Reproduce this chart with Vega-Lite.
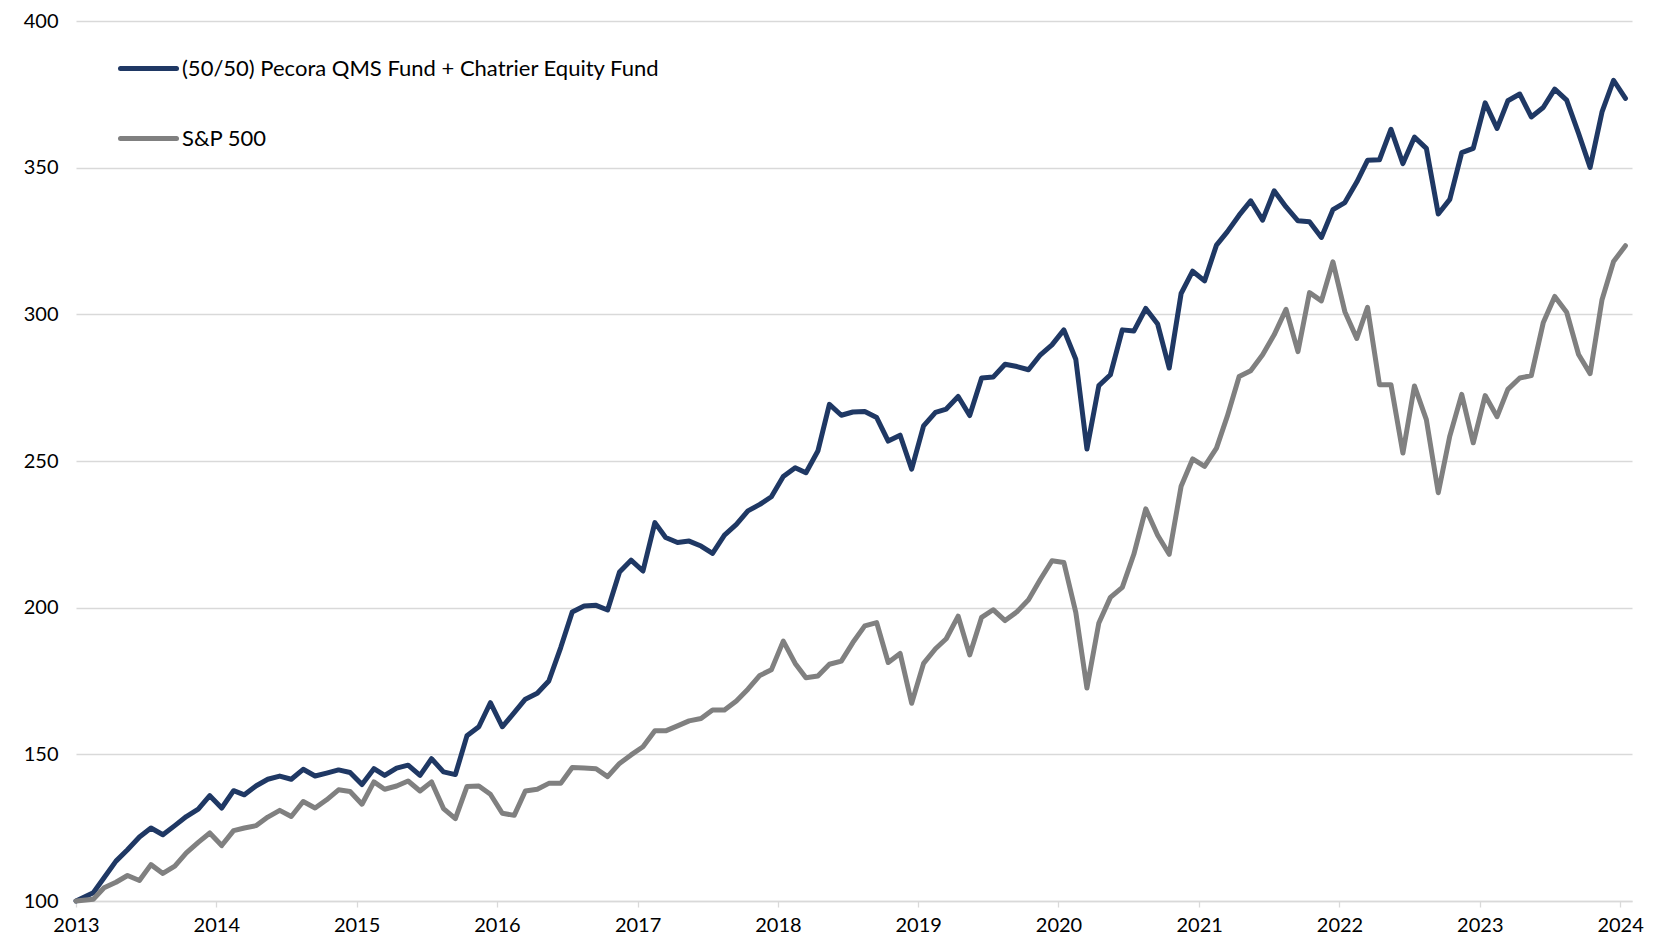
{
"$schema": "https://vega.github.io/schema/vega-lite/v6.json",
"width": 1556, "height": 880,
"autosize": {"type": "none"},
"padding": {"left": 76, "top": 21, "right": 23, "bottom": 43},
"background": "white",
"config": {"view": {"stroke": null}, "font": "Lato"},
"data": {"values": [
{"date":"2013-01-01","series":"(50/50) Pecora QMS Fund + Chatrier Equity Fund","value":100},
{"date":"2013-02-15","series":"(50/50) Pecora QMS Fund + Chatrier Equity Fund","value":102.8},
{"date":"2013-03-15","series":"(50/50) Pecora QMS Fund + Chatrier Equity Fund","value":107.9},
{"date":"2013-04-15","series":"(50/50) Pecora QMS Fund + Chatrier Equity Fund","value":113.6},
{"date":"2013-05-15","series":"(50/50) Pecora QMS Fund + Chatrier Equity Fund","value":117.5},
{"date":"2013-06-15","series":"(50/50) Pecora QMS Fund + Chatrier Equity Fund","value":121.8},
{"date":"2013-07-15","series":"(50/50) Pecora QMS Fund + Chatrier Equity Fund","value":124.9},
{"date":"2013-08-15","series":"(50/50) Pecora QMS Fund + Chatrier Equity Fund","value":122.6},
{"date":"2013-09-15","series":"(50/50) Pecora QMS Fund + Chatrier Equity Fund","value":125.7},
{"date":"2013-10-15","series":"(50/50) Pecora QMS Fund + Chatrier Equity Fund","value":128.8},
{"date":"2013-11-15","series":"(50/50) Pecora QMS Fund + Chatrier Equity Fund","value":131.3},
{"date":"2013-12-15","series":"(50/50) Pecora QMS Fund + Chatrier Equity Fund","value":135.9},
{"date":"2014-01-15","series":"(50/50) Pecora QMS Fund + Chatrier Equity Fund","value":131.7},
{"date":"2014-02-15","series":"(50/50) Pecora QMS Fund + Chatrier Equity Fund","value":137.6},
{"date":"2014-03-15","series":"(50/50) Pecora QMS Fund + Chatrier Equity Fund","value":136.2},
{"date":"2014-04-15","series":"(50/50) Pecora QMS Fund + Chatrier Equity Fund","value":139.3},
{"date":"2014-05-15","series":"(50/50) Pecora QMS Fund + Chatrier Equity Fund","value":141.5},
{"date":"2014-06-15","series":"(50/50) Pecora QMS Fund + Chatrier Equity Fund","value":142.6},
{"date":"2014-07-15","series":"(50/50) Pecora QMS Fund + Chatrier Equity Fund","value":141.5},
{"date":"2014-08-15","series":"(50/50) Pecora QMS Fund + Chatrier Equity Fund","value":144.9},
{"date":"2014-09-15","series":"(50/50) Pecora QMS Fund + Chatrier Equity Fund","value":142.6},
{"date":"2014-10-15","series":"(50/50) Pecora QMS Fund + Chatrier Equity Fund","value":143.6},
{"date":"2014-11-15","series":"(50/50) Pecora QMS Fund + Chatrier Equity Fund","value":144.7},
{"date":"2014-12-15","series":"(50/50) Pecora QMS Fund + Chatrier Equity Fund","value":143.8},
{"date":"2015-01-15","series":"(50/50) Pecora QMS Fund + Chatrier Equity Fund","value":139.7},
{"date":"2015-02-15","series":"(50/50) Pecora QMS Fund + Chatrier Equity Fund","value":145.1},
{"date":"2015-03-15","series":"(50/50) Pecora QMS Fund + Chatrier Equity Fund","value":142.8},
{"date":"2015-04-15","series":"(50/50) Pecora QMS Fund + Chatrier Equity Fund","value":145.3},
{"date":"2015-05-15","series":"(50/50) Pecora QMS Fund + Chatrier Equity Fund","value":146.3},
{"date":"2015-06-15","series":"(50/50) Pecora QMS Fund + Chatrier Equity Fund","value":142.8},
{"date":"2015-07-15","series":"(50/50) Pecora QMS Fund + Chatrier Equity Fund","value":148.5},
{"date":"2015-08-15","series":"(50/50) Pecora QMS Fund + Chatrier Equity Fund","value":144.0},
{"date":"2015-09-15","series":"(50/50) Pecora QMS Fund + Chatrier Equity Fund","value":143.1},
{"date":"2015-10-15","series":"(50/50) Pecora QMS Fund + Chatrier Equity Fund","value":156.3},
{"date":"2015-11-15","series":"(50/50) Pecora QMS Fund + Chatrier Equity Fund","value":159.4},
{"date":"2015-12-15","series":"(50/50) Pecora QMS Fund + Chatrier Equity Fund","value":167.6},
{"date":"2016-01-15","series":"(50/50) Pecora QMS Fund + Chatrier Equity Fund","value":159.4},
{"date":"2016-02-15","series":"(50/50) Pecora QMS Fund + Chatrier Equity Fund","value":164.2},
{"date":"2016-03-15","series":"(50/50) Pecora QMS Fund + Chatrier Equity Fund","value":168.8},
{"date":"2016-04-15","series":"(50/50) Pecora QMS Fund + Chatrier Equity Fund","value":170.8},
{"date":"2016-05-15","series":"(50/50) Pecora QMS Fund + Chatrier Equity Fund","value":175.0},
{"date":"2016-06-15","series":"(50/50) Pecora QMS Fund + Chatrier Equity Fund","value":186.4},
{"date":"2016-07-15","series":"(50/50) Pecora QMS Fund + Chatrier Equity Fund","value":198.5},
{"date":"2016-08-15","series":"(50/50) Pecora QMS Fund + Chatrier Equity Fund","value":200.6},
{"date":"2016-09-15","series":"(50/50) Pecora QMS Fund + Chatrier Equity Fund","value":200.8},
{"date":"2016-10-15","series":"(50/50) Pecora QMS Fund + Chatrier Equity Fund","value":199.2},
{"date":"2016-11-15","series":"(50/50) Pecora QMS Fund + Chatrier Equity Fund","value":212.2},
{"date":"2016-12-15","series":"(50/50) Pecora QMS Fund + Chatrier Equity Fund","value":216.2},
{"date":"2017-01-15","series":"(50/50) Pecora QMS Fund + Chatrier Equity Fund","value":212.5},
{"date":"2017-02-15","series":"(50/50) Pecora QMS Fund + Chatrier Equity Fund","value":229.0},
{"date":"2017-03-15","series":"(50/50) Pecora QMS Fund + Chatrier Equity Fund","value":223.9},
{"date":"2017-04-15","series":"(50/50) Pecora QMS Fund + Chatrier Equity Fund","value":222.2},
{"date":"2017-05-15","series":"(50/50) Pecora QMS Fund + Chatrier Equity Fund","value":222.7},
{"date":"2017-06-15","series":"(50/50) Pecora QMS Fund + Chatrier Equity Fund","value":221.0},
{"date":"2017-07-15","series":"(50/50) Pecora QMS Fund + Chatrier Equity Fund","value":218.5},
{"date":"2017-08-15","series":"(50/50) Pecora QMS Fund + Chatrier Equity Fund","value":224.7},
{"date":"2017-09-15","series":"(50/50) Pecora QMS Fund + Chatrier Equity Fund","value":228.4},
{"date":"2017-10-15","series":"(50/50) Pecora QMS Fund + Chatrier Equity Fund","value":233.0},
{"date":"2017-11-15","series":"(50/50) Pecora QMS Fund + Chatrier Equity Fund","value":235.2},
{"date":"2017-12-15","series":"(50/50) Pecora QMS Fund + Chatrier Equity Fund","value":237.8},
{"date":"2018-01-15","series":"(50/50) Pecora QMS Fund + Chatrier Equity Fund","value":244.7},
{"date":"2018-02-15","series":"(50/50) Pecora QMS Fund + Chatrier Equity Fund","value":247.7},
{"date":"2018-03-15","series":"(50/50) Pecora QMS Fund + Chatrier Equity Fund","value":246.0},
{"date":"2018-04-15","series":"(50/50) Pecora QMS Fund + Chatrier Equity Fund","value":253.4},
{"date":"2018-05-15","series":"(50/50) Pecora QMS Fund + Chatrier Equity Fund","value":269.3},
{"date":"2018-06-15","series":"(50/50) Pecora QMS Fund + Chatrier Equity Fund","value":265.6},
{"date":"2018-07-15","series":"(50/50) Pecora QMS Fund + Chatrier Equity Fund","value":266.7},
{"date":"2018-08-15","series":"(50/50) Pecora QMS Fund + Chatrier Equity Fund","value":266.9},
{"date":"2018-09-15","series":"(50/50) Pecora QMS Fund + Chatrier Equity Fund","value":264.8},
{"date":"2018-10-15","series":"(50/50) Pecora QMS Fund + Chatrier Equity Fund","value":256.8},
{"date":"2018-11-15","series":"(50/50) Pecora QMS Fund + Chatrier Equity Fund","value":258.8},
{"date":"2018-12-15","series":"(50/50) Pecora QMS Fund + Chatrier Equity Fund","value":247.2},
{"date":"2019-01-15","series":"(50/50) Pecora QMS Fund + Chatrier Equity Fund","value":262.0},
{"date":"2019-02-15","series":"(50/50) Pecora QMS Fund + Chatrier Equity Fund","value":266.6},
{"date":"2019-03-15","series":"(50/50) Pecora QMS Fund + Chatrier Equity Fund","value":267.7},
{"date":"2019-04-15","series":"(50/50) Pecora QMS Fund + Chatrier Equity Fund","value":272.0},
{"date":"2019-05-15","series":"(50/50) Pecora QMS Fund + Chatrier Equity Fund","value":265.5},
{"date":"2019-06-15","series":"(50/50) Pecora QMS Fund + Chatrier Equity Fund","value":278.3},
{"date":"2019-07-15","series":"(50/50) Pecora QMS Fund + Chatrier Equity Fund","value":278.6},
{"date":"2019-08-15","series":"(50/50) Pecora QMS Fund + Chatrier Equity Fund","value":283.0},
{"date":"2019-09-15","series":"(50/50) Pecora QMS Fund + Chatrier Equity Fund","value":282.2},
{"date":"2019-10-15","series":"(50/50) Pecora QMS Fund + Chatrier Equity Fund","value":281.1},
{"date":"2019-11-15","series":"(50/50) Pecora QMS Fund + Chatrier Equity Fund","value":286.2},
{"date":"2019-12-15","series":"(50/50) Pecora QMS Fund + Chatrier Equity Fund","value":289.6},
{"date":"2020-01-15","series":"(50/50) Pecora QMS Fund + Chatrier Equity Fund","value":294.7},
{"date":"2020-02-15","series":"(50/50) Pecora QMS Fund + Chatrier Equity Fund","value":284.7},
{"date":"2020-03-15","series":"(50/50) Pecora QMS Fund + Chatrier Equity Fund","value":254.1},
{"date":"2020-04-15","series":"(50/50) Pecora QMS Fund + Chatrier Equity Fund","value":275.7},
{"date":"2020-05-15","series":"(50/50) Pecora QMS Fund + Chatrier Equity Fund","value":279.4},
{"date":"2020-06-15","series":"(50/50) Pecora QMS Fund + Chatrier Equity Fund","value":294.7},
{"date":"2020-07-15","series":"(50/50) Pecora QMS Fund + Chatrier Equity Fund","value":294.3},
{"date":"2020-08-15","series":"(50/50) Pecora QMS Fund + Chatrier Equity Fund","value":302.0},
{"date":"2020-09-15","series":"(50/50) Pecora QMS Fund + Chatrier Equity Fund","value":296.7},
{"date":"2020-10-15","series":"(50/50) Pecora QMS Fund + Chatrier Equity Fund","value":281.7},
{"date":"2020-11-15","series":"(50/50) Pecora QMS Fund + Chatrier Equity Fund","value":307.1},
{"date":"2020-12-15","series":"(50/50) Pecora QMS Fund + Chatrier Equity Fund","value":314.7},
{"date":"2021-01-15","series":"(50/50) Pecora QMS Fund + Chatrier Equity Fund","value":311.4},
{"date":"2021-02-15","series":"(50/50) Pecora QMS Fund + Chatrier Equity Fund","value":323.6},
{"date":"2021-03-15","series":"(50/50) Pecora QMS Fund + Chatrier Equity Fund","value":328.1},
{"date":"2021-04-15","series":"(50/50) Pecora QMS Fund + Chatrier Equity Fund","value":333.8},
{"date":"2021-05-15","series":"(50/50) Pecora QMS Fund + Chatrier Equity Fund","value":338.7},
{"date":"2021-06-15","series":"(50/50) Pecora QMS Fund + Chatrier Equity Fund","value":332.1},
{"date":"2021-07-15","series":"(50/50) Pecora QMS Fund + Chatrier Equity Fund","value":342.1},
{"date":"2021-08-15","series":"(50/50) Pecora QMS Fund + Chatrier Equity Fund","value":336.6},
{"date":"2021-09-15","series":"(50/50) Pecora QMS Fund + Chatrier Equity Fund","value":331.9},
{"date":"2021-10-15","series":"(50/50) Pecora QMS Fund + Chatrier Equity Fund","value":331.6},
{"date":"2021-11-15","series":"(50/50) Pecora QMS Fund + Chatrier Equity Fund","value":326.2},
{"date":"2021-12-15","series":"(50/50) Pecora QMS Fund + Chatrier Equity Fund","value":335.7},
{"date":"2022-01-15","series":"(50/50) Pecora QMS Fund + Chatrier Equity Fund","value":338.1},
{"date":"2022-02-15","series":"(50/50) Pecora QMS Fund + Chatrier Equity Fund","value":345.1},
{"date":"2022-03-15","series":"(50/50) Pecora QMS Fund + Chatrier Equity Fund","value":352.5},
{"date":"2022-04-15","series":"(50/50) Pecora QMS Fund + Chatrier Equity Fund","value":352.7},
{"date":"2022-05-15","series":"(50/50) Pecora QMS Fund + Chatrier Equity Fund","value":363.1},
{"date":"2022-06-15","series":"(50/50) Pecora QMS Fund + Chatrier Equity Fund","value":351.4},
{"date":"2022-07-15","series":"(50/50) Pecora QMS Fund + Chatrier Equity Fund","value":360.4},
{"date":"2022-08-15","series":"(50/50) Pecora QMS Fund + Chatrier Equity Fund","value":356.6},
{"date":"2022-09-15","series":"(50/50) Pecora QMS Fund + Chatrier Equity Fund","value":334.2},
{"date":"2022-10-15","series":"(50/50) Pecora QMS Fund + Chatrier Equity Fund","value":339.2},
{"date":"2022-11-15","series":"(50/50) Pecora QMS Fund + Chatrier Equity Fund","value":355.1},
{"date":"2022-12-15","series":"(50/50) Pecora QMS Fund + Chatrier Equity Fund","value":356.6},
{"date":"2023-01-15","series":"(50/50) Pecora QMS Fund + Chatrier Equity Fund","value":372.1},
{"date":"2023-02-15","series":"(50/50) Pecora QMS Fund + Chatrier Equity Fund","value":363.4},
{"date":"2023-03-15","series":"(50/50) Pecora QMS Fund + Chatrier Equity Fund","value":372.8},
{"date":"2023-04-15","series":"(50/50) Pecora QMS Fund + Chatrier Equity Fund","value":375.1},
{"date":"2023-05-15","series":"(50/50) Pecora QMS Fund + Chatrier Equity Fund","value":367.3},
{"date":"2023-06-15","series":"(50/50) Pecora QMS Fund + Chatrier Equity Fund","value":370.5},
{"date":"2023-07-15","series":"(50/50) Pecora QMS Fund + Chatrier Equity Fund","value":376.8},
{"date":"2023-08-15","series":"(50/50) Pecora QMS Fund + Chatrier Equity Fund","value":373.0},
{"date":"2023-09-15","series":"(50/50) Pecora QMS Fund + Chatrier Equity Fund","value":361.7},
{"date":"2023-10-15","series":"(50/50) Pecora QMS Fund + Chatrier Equity Fund","value":350.1},
{"date":"2023-11-15","series":"(50/50) Pecora QMS Fund + Chatrier Equity Fund","value":369.0},
{"date":"2023-12-15","series":"(50/50) Pecora QMS Fund + Chatrier Equity Fund","value":379.8},
{"date":"2024-01-15","series":"(50/50) Pecora QMS Fund + Chatrier Equity Fund","value":373.6},
{"date":"2013-01-01","series":"S&P 500","value":100},
{"date":"2013-02-15","series":"S&P 500","value":100.6},
{"date":"2013-03-15","series":"S&P 500","value":104.5},
{"date":"2013-04-15","series":"S&P 500","value":106.4},
{"date":"2013-05-15","series":"S&P 500","value":108.7},
{"date":"2013-06-15","series":"S&P 500","value":107.0},
{"date":"2013-07-15","series":"S&P 500","value":112.4},
{"date":"2013-08-15","series":"S&P 500","value":109.4},
{"date":"2013-09-15","series":"S&P 500","value":111.9},
{"date":"2013-10-15","series":"S&P 500","value":116.4},
{"date":"2013-11-15","series":"S&P 500","value":120.0},
{"date":"2013-12-15","series":"S&P 500","value":123.2},
{"date":"2014-01-15","series":"S&P 500","value":118.9},
{"date":"2014-02-15","series":"S&P 500","value":124.0},
{"date":"2014-03-15","series":"S&P 500","value":124.9},
{"date":"2014-04-15","series":"S&P 500","value":125.7},
{"date":"2014-05-15","series":"S&P 500","value":128.6},
{"date":"2014-06-15","series":"S&P 500","value":130.9},
{"date":"2014-07-15","series":"S&P 500","value":128.8},
{"date":"2014-08-15","series":"S&P 500","value":133.9},
{"date":"2014-09-15","series":"S&P 500","value":131.7},
{"date":"2014-10-15","series":"S&P 500","value":134.5},
{"date":"2014-11-15","series":"S&P 500","value":137.9},
{"date":"2014-12-15","series":"S&P 500","value":137.3},
{"date":"2015-01-15","series":"S&P 500","value":133.0},
{"date":"2015-02-15","series":"S&P 500","value":140.6},
{"date":"2015-03-15","series":"S&P 500","value":138.1},
{"date":"2015-04-15","series":"S&P 500","value":139.2},
{"date":"2015-05-15","series":"S&P 500","value":140.9},
{"date":"2015-06-15","series":"S&P 500","value":137.5},
{"date":"2015-07-15","series":"S&P 500","value":140.6},
{"date":"2015-08-15","series":"S&P 500","value":131.5},
{"date":"2015-09-15","series":"S&P 500","value":128.1},
{"date":"2015-10-15","series":"S&P 500","value":139.0},
{"date":"2015-11-15","series":"S&P 500","value":139.2},
{"date":"2015-12-15","series":"S&P 500","value":136.4},
{"date":"2016-01-15","series":"S&P 500","value":129.9},
{"date":"2016-02-15","series":"S&P 500","value":129.2},
{"date":"2016-03-15","series":"S&P 500","value":137.5},
{"date":"2016-04-15","series":"S&P 500","value":138.1},
{"date":"2016-05-15","series":"S&P 500","value":140.1},
{"date":"2016-06-15","series":"S&P 500","value":140.1},
{"date":"2016-07-15","series":"S&P 500","value":145.5},
{"date":"2016-08-15","series":"S&P 500","value":145.3},
{"date":"2016-09-15","series":"S&P 500","value":145.1},
{"date":"2016-10-15","series":"S&P 500","value":142.4},
{"date":"2016-11-15","series":"S&P 500","value":146.9},
{"date":"2016-12-15","series":"S&P 500","value":149.8},
{"date":"2017-01-15","series":"S&P 500","value":152.6},
{"date":"2017-02-15","series":"S&P 500","value":158.0},
{"date":"2017-03-15","series":"S&P 500","value":158.0},
{"date":"2017-04-15","series":"S&P 500","value":159.7},
{"date":"2017-05-15","series":"S&P 500","value":161.4},
{"date":"2017-06-15","series":"S&P 500","value":162.2},
{"date":"2017-07-15","series":"S&P 500","value":165.1},
{"date":"2017-08-15","series":"S&P 500","value":165.1},
{"date":"2017-09-15","series":"S&P 500","value":168.2},
{"date":"2017-10-15","series":"S&P 500","value":172.2},
{"date":"2017-11-15","series":"S&P 500","value":176.9},
{"date":"2017-12-15","series":"S&P 500","value":178.8},
{"date":"2018-01-15","series":"S&P 500","value":188.6},
{"date":"2018-02-15","series":"S&P 500","value":181.0},
{"date":"2018-03-15","series":"S&P 500","value":176.1},
{"date":"2018-04-15","series":"S&P 500","value":176.7},
{"date":"2018-05-15","series":"S&P 500","value":180.7},
{"date":"2018-06-15","series":"S&P 500","value":181.8},
{"date":"2018-07-15","series":"S&P 500","value":188.1},
{"date":"2018-08-15","series":"S&P 500","value":193.8},
{"date":"2018-09-15","series":"S&P 500","value":194.9},
{"date":"2018-10-15","series":"S&P 500","value":181.3},
{"date":"2018-11-15","series":"S&P 500","value":184.4},
{"date":"2018-12-15","series":"S&P 500","value":167.4},
{"date":"2019-01-15","series":"S&P 500","value":181.0},
{"date":"2019-02-15","series":"S&P 500","value":186.0},
{"date":"2019-03-15","series":"S&P 500","value":189.4},
{"date":"2019-04-15","series":"S&P 500","value":197.1},
{"date":"2019-05-15","series":"S&P 500","value":183.9},
{"date":"2019-06-15","series":"S&P 500","value":196.7},
{"date":"2019-07-15","series":"S&P 500","value":199.3},
{"date":"2019-08-15","series":"S&P 500","value":195.6},
{"date":"2019-09-15","series":"S&P 500","value":198.6},
{"date":"2019-10-15","series":"S&P 500","value":202.7},
{"date":"2019-11-15","series":"S&P 500","value":209.7},
{"date":"2019-12-15","series":"S&P 500","value":216.0},
{"date":"2020-01-15","series":"S&P 500","value":215.4},
{"date":"2020-02-15","series":"S&P 500","value":198.4},
{"date":"2020-03-15","series":"S&P 500","value":172.6},
{"date":"2020-04-15","series":"S&P 500","value":194.8},
{"date":"2020-05-15","series":"S&P 500","value":203.5},
{"date":"2020-06-15","series":"S&P 500","value":206.9},
{"date":"2020-07-15","series":"S&P 500","value":218.2},
{"date":"2020-08-15","series":"S&P 500","value":233.7},
{"date":"2020-09-15","series":"S&P 500","value":224.7},
{"date":"2020-10-15","series":"S&P 500","value":218.2},
{"date":"2020-11-15","series":"S&P 500","value":241.4},
{"date":"2020-12-15","series":"S&P 500","value":250.7},
{"date":"2021-01-15","series":"S&P 500","value":248.2},
{"date":"2021-02-15","series":"S&P 500","value":254.4},
{"date":"2021-03-15","series":"S&P 500","value":265.2},
{"date":"2021-04-15","series":"S&P 500","value":278.8},
{"date":"2021-05-15","series":"S&P 500","value":280.8},
{"date":"2021-06-15","series":"S&P 500","value":286.2},
{"date":"2021-07-15","series":"S&P 500","value":293.0},
{"date":"2021-08-15","series":"S&P 500","value":301.7},
{"date":"2021-09-15","series":"S&P 500","value":287.3},
{"date":"2021-10-15","series":"S&P 500","value":307.4},
{"date":"2021-11-15","series":"S&P 500","value":304.6},
{"date":"2021-12-15","series":"S&P 500","value":317.9},
{"date":"2022-01-15","series":"S&P 500","value":300.9},
{"date":"2022-02-15","series":"S&P 500","value":291.8},
{"date":"2022-03-15","series":"S&P 500","value":302.4},
{"date":"2022-04-15","series":"S&P 500","value":276.0},
{"date":"2022-05-15","series":"S&P 500","value":276.0},
{"date":"2022-06-15","series":"S&P 500","value":252.7},
{"date":"2022-07-15","series":"S&P 500","value":275.6},
{"date":"2022-08-15","series":"S&P 500","value":264.1},
{"date":"2022-09-15","series":"S&P 500","value":239.2},
{"date":"2022-10-15","series":"S&P 500","value":258.5},
{"date":"2022-11-15","series":"S&P 500","value":272.7},
{"date":"2022-12-15","series":"S&P 500","value":256.2},
{"date":"2023-01-15","series":"S&P 500","value":272.3},
{"date":"2023-02-15","series":"S&P 500","value":265.1},
{"date":"2023-03-15","series":"S&P 500","value":274.4},
{"date":"2023-04-15","series":"S&P 500","value":278.3},
{"date":"2023-05-15","series":"S&P 500","value":279.1},
{"date":"2023-06-15","series":"S&P 500","value":297.1},
{"date":"2023-07-15","series":"S&P 500","value":306.1},
{"date":"2023-08-15","series":"S&P 500","value":300.7},
{"date":"2023-09-15","series":"S&P 500","value":286.3},
{"date":"2023-10-15","series":"S&P 500","value":279.8},
{"date":"2023-11-15","series":"S&P 500","value":305.0},
{"date":"2023-12-15","series":"S&P 500","value":318.0},
{"date":"2024-01-15","series":"S&P 500","value":323.4}
]},
"mark": {"type": "line", "strokeWidth": 5, "strokeCap": "round", "strokeJoin": "round"},
"encoding": {
  "x": {"field": "date", "type": "temporal", "title": null,
    "scale": {"type": "utc", "domain": [{"year": 2013, "month": 1, "date": 1, "utc": true}, {"year": 2024, "month": 2, "date": 1, "utc": true}]},
    "axis": {"format": "%Y", "tickCount": "year", "grid": false, "domainColor": "#D9D9D9", "domainWidth": 1.3,
      "tickColor": "#D9D9D9", "tickWidth": 1.3, "tickSize": 6, "labelFontSize": 20, "labelFont": "Lato",
      "labelColor": "#000000", "labelPadding": 8, "labelFlush": false, "labelOverlap": false}},
  "y": {"field": "value", "type": "quantitative", "title": null,
    "scale": {"domain": [100, 400], "nice": false, "zero": false},
    "axis": {"values": [100, 150, 200, 250, 300, 350, 400], "grid": true, "gridColor": "#D9D9D9", "gridWidth": 1.3,
      "domain": false, "ticks": false, "labelFontSize": 20, "labelFont": "Lato", "labelColor": "#000000", "labelPadding": 18}},
  "color": {"field": "series", "type": "nominal",
    "scale": {"domain": ["(50/50) Pecora QMS Fund + Chatrier Equity Fund", "S&P 500"], "range": ["#1F3864", "#808080"]},
    "legend": {"title": null, "orient": "none", "legendX": 42, "legendY": 17, "symbolType": "stroke", "symbolSize": 3136,
      "symbolStrokeWidth": 5, "labelFontSize": 22, "labelFont": "Lato", "labelColor": "#000000", "rowPadding": 28,
      "labelOffset": 3, "labelLimit": 0,
      "encode": {"symbols": {"update": {"strokeCap": {"value": "round"}}}}}}
}
}
